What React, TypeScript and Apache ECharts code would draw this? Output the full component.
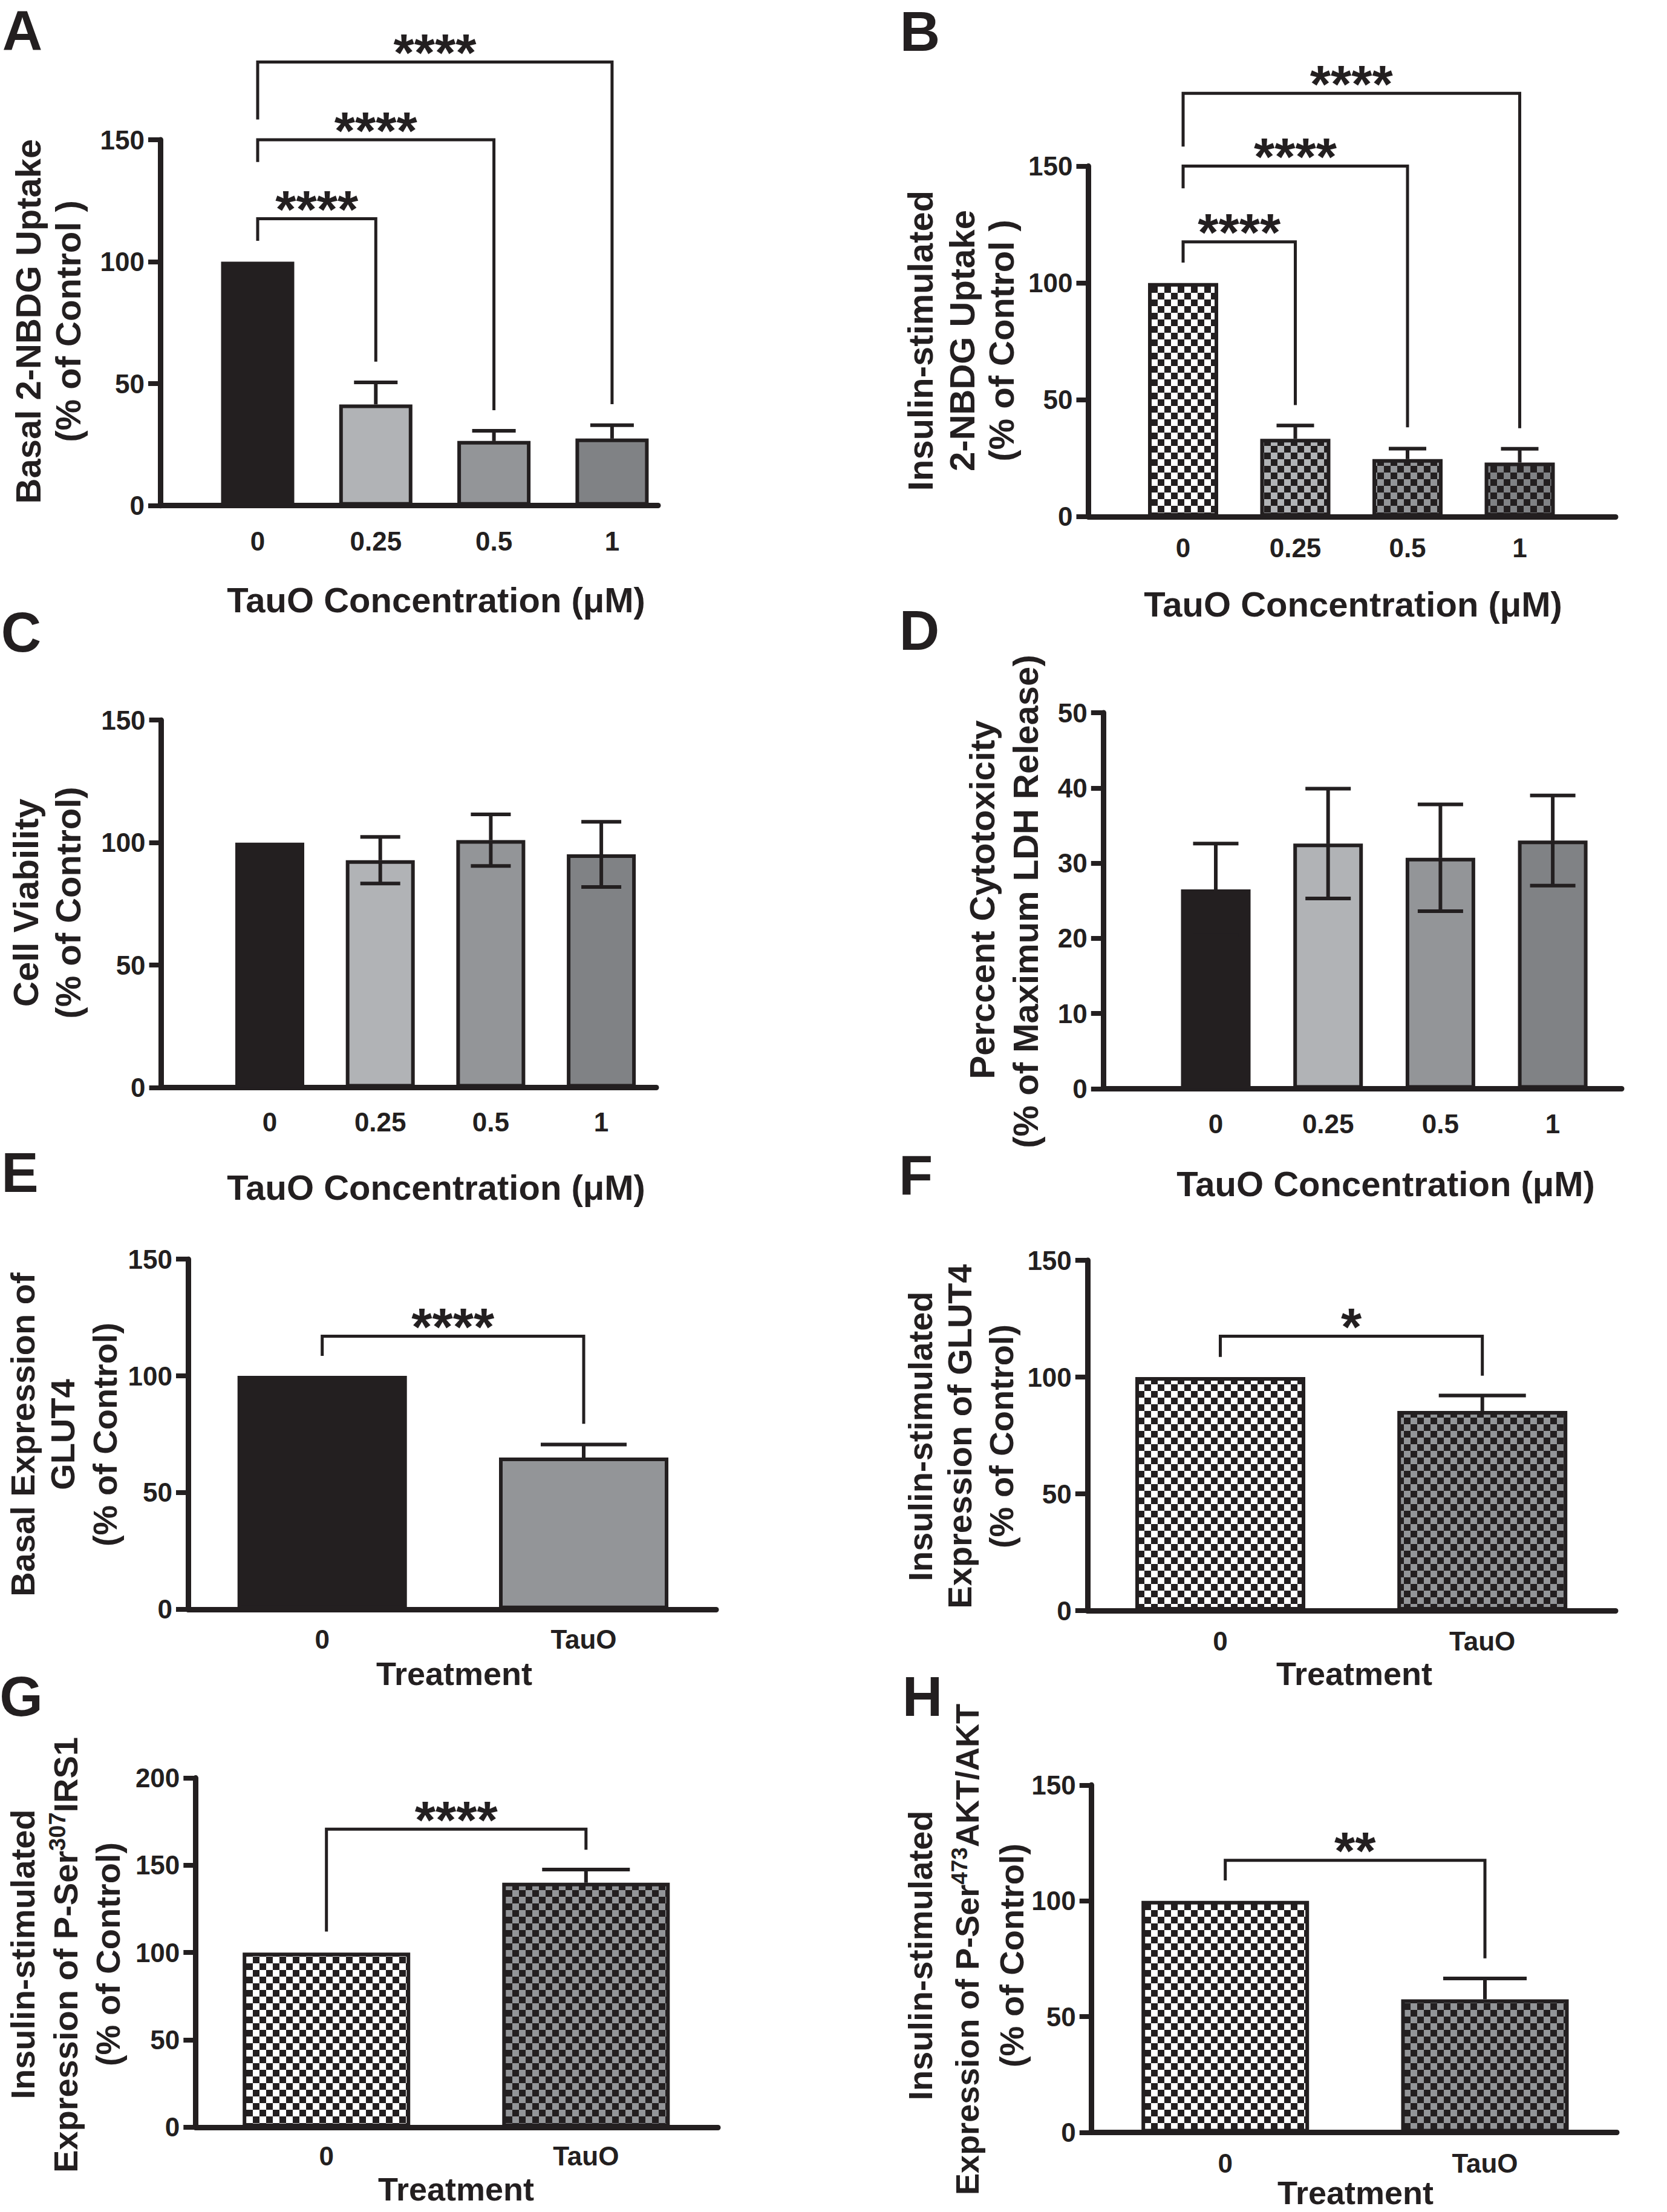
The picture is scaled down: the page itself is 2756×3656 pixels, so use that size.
import React, { useEffect, useRef } from 'react';
import * as echarts from 'echarts';

const INK = '#231f20';
const FONT = '"Liberation Sans", Arial, Helvetica, sans-serif';

// ---------- data ----------
const concCategories = ['0', '0.25', '0.5', '1'];
const treatmentCategories = ['0', 'TauO'];

const basalUptake = [100, 41.5, 26.5, 27.5];
const basalUptakeSem = [0, 9, 4.2, 5.5];
const insulinUptake = [100, 33.3, 24.6, 23.1];
const insulinUptakeSem = [0, 5.7, 4.5, 5.9];
const viability = [100, 92.8, 101, 95.2];
const viabilitySem = [0, 9.5, 10.5, 13.3];
const cytotoxicity = [26.5, 32.6, 30.7, 33.0];
const cytotoxicitySem = [6.1, 7.3, 7.1, 6.0];
const basalGlut4 = [100, 65];
const basalGlut4Sem = [0, 5.6];
const insulinGlut4 = [100, 85.5];
const insulinGlut4Sem = [0, 6.6];
const irs1 = [100, 140];
const irs1Sem = [0, 7.5];
const akt = [100, 57.5];
const aktSem = [0, 9];

// significance brackets: [fromIndex, toIndex, bracketY, leftLegEnd, rightLegEnd]
const bracketsA = [[0, 1, 117.6, 108.6, 59], [0, 2, 150, 140.9, 39.1], [0, 3, 181.9, 158.3, 41.6]];
const starsA = ['****', '****', '****'];
const bracketsB = [[0, 1, 117.6, 108.7, 47.7], [0, 2, 150, 140.5, 38.2], [0, 3, 181.2, 158.4, 37.8]];
const starsB = ['****', '****', '****'];
const bracketsE = [[0, 1, 117, 108.6, 79.5]];
const starsE = ['****'];
const bracketsF = [[0, 1, 117.5, 108.6, 100.6]];
const starsF = ['*'];
const bracketsG = [[0, 1, 170.7, 112, 158.9]];
const starsG = ['****'];
const bracketsH = [[0, 1, 117.5, 108.8, 75.2]];
const starsH = ['**'];

const yTicks150 = { max: 150, interval: 50 };
const yTicks50 = { max: 50, interval: 10 };
const yTicks200 = { max: 200, interval: 50 };

function checker(color: string, cell = 11) {
  const c = document.createElement('canvas');
  c.width = cell * 2;
  c.height = cell * 2;
  const g = c.getContext('2d')!;
  g.fillStyle = color;
  g.fillRect(0, 0, cell * 2, cell * 2);
  g.fillStyle = INK;
  g.fillRect(0, 0, cell, cell);
  g.fillRect(cell, cell, cell, cell);
  return { image: c, repeat: 'repeat' } as any;
}

function txt(text: string, x: number, y: number, size: number, rotate = false, align = 'center') {
  return {
    type: 'text',
    x,
    y,
    rotation: rotate ? Math.PI / 2 : 0,
    silent: true,
    style: {
      text,
      fill: INK,
      font: `bold ${size}px ${FONT}`,
      textAlign: align,
      align,
      textVerticalAlign: 'middle',
      verticalAlign: 'middle',
    },
  };
}

function supTxt(before: string, sup: string, after: string, x: number, y: number, size: number) {
  const n = { fontSize: size, fontWeight: 'bold', fontFamily: FONT, fill: INK, color: INK, lineHeight: size + 8 };
  const s = { fontSize: Math.round(size * 0.68), fontWeight: 'bold', fontFamily: FONT, fill: INK, color: INK, verticalAlign: 'top', lineHeight: Math.round(size * 0.68) };
  return {
    type: 'text',
    x,
    y,
    rotation: Math.PI / 2,
    silent: true,
    style: {
      text: `{n|${before}}{s|${sup}}{n|${after}}`,
      rich: { n, s },
      fill: INK,
      font: `bold ${size}px ${FONT}`,
      textAlign: 'center',
      align: 'center',
      textVerticalAlign: 'middle',
      verticalAlign: 'middle',
    },
  };
}

export default function App() {
  const ref = useRef<HTMLDivElement>(null);

  useEffect(() => {
    document.body.style.margin = '0';
    const chart = echarts.init(ref.current!, null, { renderer: 'svg' });

    const solid4 = [INK, '#b1b3b6', '#939598', '#808285'];
    const check4 = [checker('#ffffff'), checker('#b1b3b6'), checker('#939598'), checker('#808285')];
    const solid2 = [INK, '#939598'];
    const check2 = [checker('#ffffff'), checker('#939598')];

    const panels = [
      { L: 265, R: 1088, top: 231, bottom: 835.7, c0: 426, s: 195.3, y: yTicks150, cats: concCategories, values: basalUptake, sems: basalUptakeSem, lower: false, fills: solid4, barW: 121, capW: 72, xMargin: 37, brackets: bracketsA, stars: starsA },
      { L: 1799.5, R: 2671, top: 274.6, bottom: 853.8, c0: 1956, s: 185.5, y: yTicks150, cats: concCategories, values: insulinUptake, sems: insulinUptakeSem, lower: false, fills: check4, barW: 116, capW: 62, xMargin: 30, brackets: bracketsB, stars: starsB },
      { L: 266.6, R: 1085, top: 1190.2, bottom: 1797.6, c0: 446, s: 182.7, y: yTicks150, cats: concCategories, values: viability, sems: viabilitySem, lower: true, fills: solid4, barW: 114, capW: 66, xMargin: 35, brackets: [], stars: [] },
      { L: 1823.8, R: 2681, top: 1178, bottom: 1799.4, c0: 2010, s: 185.7, y: yTicks50, cats: concCategories, values: cytotoxicity, sems: cytotoxicitySem, lower: true, fills: solid4, barW: 115, capW: 75, xMargin: 36, brackets: [], stars: [] },
      { L: 311, R: 1184, top: 2081.2, bottom: 2659.8, c0: 532.7, s: 432.3, y: yTicks150, cats: treatmentCategories, values: basalGlut4, sems: basalGlut4Sem, lower: false, fills: solid2, barW: 280, capW: 142, xMargin: 28, brackets: bracketsE, stars: starsE },
      { L: 1797.8, R: 2671, top: 2083, bottom: 2662, c0: 2017.5, s: 433.2, y: yTicks150, cats: treatmentCategories, values: insulinGlut4, sems: insulinGlut4Sem, lower: false, fills: check2, barW: 281, capW: 144, xMargin: 28, brackets: bracketsF, stars: starsF },
      { L: 323.3, R: 1187, top: 2938.6, bottom: 3515.8, c0: 539.7, s: 429.1, y: yTicks200, cats: treatmentCategories, values: irs1, sems: irs1Sem, lower: false, fills: check2, barW: 277, capW: 145, xMargin: 26, brackets: bracketsG, stars: starsG },
      { L: 1804.7, R: 2673, top: 2950.3, bottom: 3524.6, c0: 2025.7, s: 429.3, y: yTicks150, cats: treatmentCategories, values: akt, sems: aktSem, lower: false, fills: check2, barW: 277, capW: 138, xMargin: 29, brackets: bracketsH, stars: starsH },
    ];

    const grid: any[] = [];
    const xAxis: any[] = [];
    const yAxis: any[] = [];
    const series: any[] = [];

    panels.forEach((p, i) => {
      grid.push({ left: p.L, top: p.top, width: p.R - p.L, height: p.bottom - p.top, containLabel: false, outerBoundsMode: 'none' });
      xAxis.push({
        type: 'value',
        gridIndex: i,
        min: -(p.c0 - p.L) / p.s,
        max: (p.R - p.c0) / p.s,
        splitLine: { show: false },
        axisTick: { show: false },
        axisLine: { show: true, onZero: false, lineStyle: { color: INK, width: 9 } },
        axisLabel: {
          show: true,
          customValues: p.cats.map((_, j) => j),
          formatter: (v: number) => p.cats[Math.round(v)] ?? '',
          margin: p.xMargin,
          color: INK,
          fontSize: 44,
          fontWeight: 'bold',
          fontFamily: FONT,
        },
      });
      yAxis.push({
        type: 'value',
        gridIndex: i,
        min: 0,
        max: p.y.max,
        interval: p.y.interval,
        splitLine: { show: false },
        axisLine: { show: true, onZero: false, lineStyle: { color: INK, width: 9 } },
        axisTick: { show: true, length: 20, lineStyle: { color: INK, width: 8 } },
        axisLabel: { margin: 26, color: INK, fontSize: 44, fontWeight: 'bold', fontFamily: FONT },
      });
      series.push({
        type: 'bar',
        xAxisIndex: i,
        yAxisIndex: i,
        barWidth: p.barW,
        z: 2,
        itemStyle: { borderColor: INK, borderWidth: 6 },
        data: p.values.map((v, j) => ({ value: [j, v], itemStyle: { color: p.fills[j], borderColor: INK, borderWidth: 6 } })),
      });
      const capHalf = p.capW / 2;
      series.push({
        type: 'custom',
        xAxisIndex: i,
        yAxisIndex: i,
        clip: false,
        z: 3,
        data: p.values.map((v, j) => [j, v, p.sems[j], p.lower ? p.sems[j] : 0]),
        renderItem: (params: any, api: any) => {
          const x = api.value(0);
          const m = api.value(1);
          const up = api.value(2);
          const lo = api.value(3);
          const children: any[] = [];
          const ls = { stroke: INK, lineWidth: 6 };
          if (up > 0) {
            const b = api.coord([x, m]);
            const t = api.coord([x, m + up]);
            children.push({ type: 'line', shape: { x1: b[0], y1: b[1], x2: t[0], y2: t[1] }, style: ls });
            children.push({ type: 'line', shape: { x1: t[0] - capHalf, y1: t[1], x2: t[0] + capHalf, y2: t[1] }, style: ls });
          }
          if (lo > 0) {
            const b = api.coord([x, m]);
            const l = api.coord([x, m - lo]);
            children.push({ type: 'line', shape: { x1: b[0], y1: b[1], x2: l[0], y2: l[1] }, style: ls });
            children.push({ type: 'line', shape: { x1: l[0] - capHalf, y1: l[1], x2: l[0] + capHalf, y2: l[1] }, style: ls });
          }
          return { type: 'group', children };
        },
      });
      if (p.brackets.length) {
        series.push({
          type: 'custom',
          xAxisIndex: i,
          yAxisIndex: i,
          clip: false,
          z: 4,
          data: p.brackets,
          renderItem: (params: any, api: any) => {
            const a = api.value(0);
            const b = api.value(1);
            const y = api.value(2);
            const yl = api.value(3);
            const yr = api.value(4);
            const p1 = api.coord([a, yl]);
            const p2 = api.coord([a, y]);
            const p3 = api.coord([b, y]);
            const p4 = api.coord([b, yr]);
            const mid = api.coord([(a + b) / 2, y]);
            return {
              type: 'group',
              children: [
                { type: 'polyline', shape: { points: [p1, p2, p3, p4] }, style: { stroke: INK, lineWidth: 5, fill: null } },
                {
                  type: 'text',
                  x: mid[0],
                  y: mid[1] - 16,
                  style: {
                    text: p.stars[params.dataIndex],
                    fill: INK,
                    font: `bold 88px ${FONT}`,
                    textAlign: 'center',
                    align: 'center',
                    textVerticalAlign: 'middle',
                    verticalAlign: 'middle',
                  },
                },
              ],
            };
          },
        });
      }
    });

    const elements: any[] = [
      // panel letters
      txt('A', 37, 50, 92),
      txt('B', 1521, 52, 92),
      txt('C', 35, 1045, 92),
      txt('D', 1520, 1042, 92),
      txt('E', 33, 1938, 92),
      txt('F', 1514, 1942, 92),
      txt('G', 35, 2804, 92),
      txt('H', 1525, 2804, 92),
      // x titles
      txt('TauO Concentration (μM)', 721, 991, 58),
      txt('TauO Concentration (μM)', 2237, 998, 58),
      txt('TauO Concentration (μM)', 721, 1962, 58),
      txt('TauO Concentration (μM)', 2291, 1956, 58),
      txt('Treatment', 751, 2766, 54),
      txt('Treatment', 2239, 2766, 54),
      txt('Treatment', 754, 3618, 54),
      txt('Treatment', 2241, 3624, 54),
      // y titles
      txt('Basal 2-NBDG Uptake', 46, 531, 58, true),
      txt('(% of Control )', 112, 531, 58, true),
      txt('Insulin-stimulated', 1521, 563, 58, true),
      txt('2-NBDG Uptake', 1590, 563, 58, true),
      txt('(% of Control )', 1655, 563, 58, true),
      txt('Cell Viability', 42, 1492, 58, true),
      txt('(% of Control)', 112, 1492, 58, true),
      txt('Perccent Cytotoxicity', 1623, 1487, 58, true),
      txt('(% of Maximum LDH Release)', 1695, 1490, 58, true),
      txt('Basal Expression of', 37, 2371, 56, true),
      txt('GLUT4', 103, 2371, 56, true),
      txt('(% of Control)', 173, 2371, 56, true),
      txt('Insulin-stimulated', 1521, 2374, 56, true),
      txt('Expression of GLUT4', 1586, 2374, 56, true),
      txt('(% of Control)', 1655, 2374, 56, true),
      txt('Insulin-stimulated', 37, 3230, 56, true),
      supTxt('Expression of P-Ser', '307', 'IRS1', 108, 3231, 56),
      txt('(% of Control)', 178, 3230, 56, true),
      txt('Insulin-stimulated', 1521, 3232, 56, true),
      supTxt('Expression of P-Ser', '473', 'AKT/AKT', 1599, 3222, 54),
      txt('(% of Control)', 1672, 3232, 56, true),
    ];

    chart.setOption({
      animation: false,
      backgroundColor: '#ffffff',
      grid,
      xAxis,
      yAxis,
      series,
      graphic: { elements },
    });

    return () => chart.dispose();
  }, []);

  return <div ref={ref} style={{ width: 2756, height: 3656 }} />;
}
